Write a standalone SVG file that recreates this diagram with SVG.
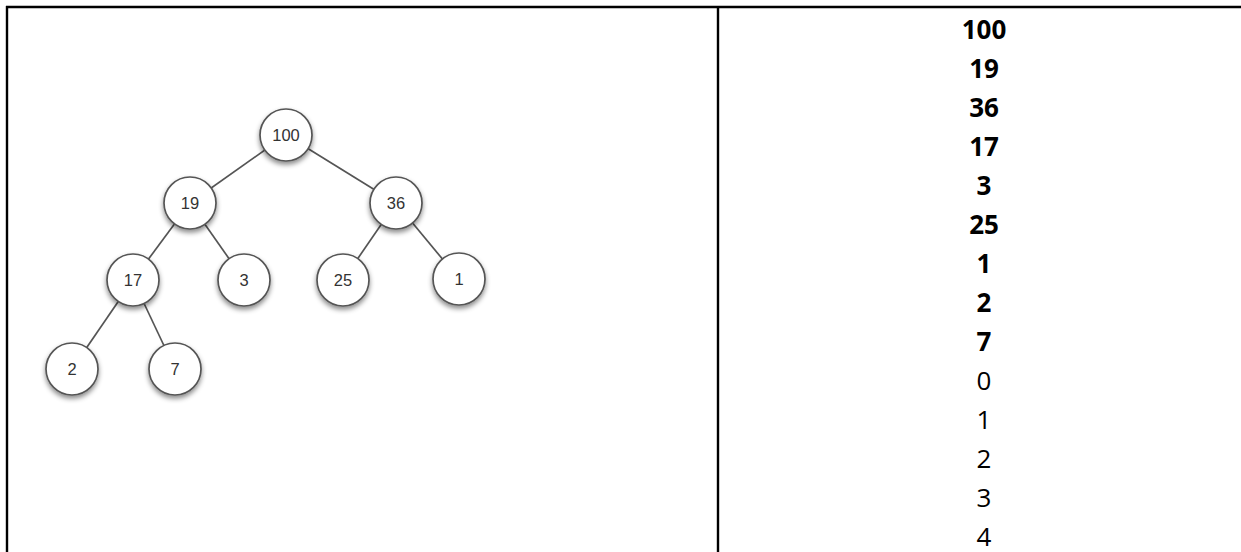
<svg xmlns="http://www.w3.org/2000/svg" width="1241" height="552" viewBox="0 0 1241 552">
<defs>
<filter id="sh" x="-50%" y="-50%" width="200%" height="200%">
<feDropShadow dx="0" dy="3" stdDeviation="2.5" flood-color="#000" flood-opacity="0.45"/>
</filter>
</defs>
<style>
.border{stroke:#000;stroke-width:2.4;fill:none}
.edge{stroke:#555;stroke-width:1.7;fill:none}
.node circle{fill:#fff;stroke:#555;stroke-width:1.7;filter:url(#sh)}
.node text{font-family:"Liberation Sans",Arial,sans-serif;font-size:16.5px;fill:#333;text-anchor:middle}
.col{font-family:"Open Sans","Noto Sans",sans-serif;font-size:26px;fill:#000;text-anchor:middle}
.b{font-weight:bold}
</style>
<rect width="1241" height="552" fill="#fff"/>
<g id="table">
<line class="border" x1="6" y1="7" x2="1241" y2="7"/>
<line class="border" x1="7" y1="6" x2="7" y2="552"/>
<line class="border" x1="718" y1="6" x2="718" y2="552"/>
</g>
<g id="connectors">
<line class="edge" x1="286" y1="135" x2="190" y2="203"/>
<line class="edge" x1="286" y1="135" x2="396" y2="203"/>
<line class="edge" x1="190" y1="203" x2="133" y2="280"/>
<line class="edge" x1="190" y1="203" x2="244" y2="280"/>
<line class="edge" x1="396" y1="203" x2="343" y2="280"/>
<line class="edge" x1="396" y1="203" x2="459" y2="279"/>
<line class="edge" x1="133" y1="280" x2="72" y2="369"/>
<line class="edge" x1="133" y1="280" x2="175" y2="369"/>
</g>
<g id="n100" class="node"><circle cx="286" cy="135" r="26"/><text x="286" y="141">100</text></g>
<g id="n19" class="node"><circle cx="190" cy="203" r="26"/><text x="190" y="209">19</text></g>
<g id="n36" class="node"><circle cx="396" cy="203" r="26"/><text x="396" y="209">36</text></g>
<g id="n17" class="node"><circle cx="133" cy="280" r="26"/><text x="133" y="286">17</text></g>
<g id="n3" class="node"><circle cx="244" cy="280" r="26"/><text x="244" y="286">3</text></g>
<g id="n25" class="node"><circle cx="343" cy="280" r="26"/><text x="343" y="286">25</text></g>
<g id="n1" class="node"><circle cx="459" cy="279" r="26"/><text x="459" y="285">1</text></g>
<g id="n2" class="node"><circle cx="72" cy="369" r="26"/><text x="72" y="375">2</text></g>
<g id="n7" class="node"><circle cx="175" cy="369" r="26"/><text x="175" y="375">7</text></g>
<g id="column">
<text class="col b" x="984" y="38.5">100</text>
<text class="col b" x="984" y="77.5">19</text>
<text class="col b" x="984" y="116.5">36</text>
<text class="col b" x="984" y="155.5">17</text>
<text class="col b" x="984" y="194.5">3</text>
<text class="col b" x="984" y="233.5">25</text>
<text class="col b" x="984" y="272.5">1</text>
<text class="col b" x="984" y="311.5">2</text>
<text class="col b" x="984" y="350.5">7</text>
<text class="col" x="984" y="389.5">0</text>
<text class="col" x="984" y="428.5">1</text>
<text class="col" x="984" y="467.5">2</text>
<text class="col" x="984" y="506.5">3</text>
<text class="col" x="984" y="545.5">4</text>
</g>
</svg>
